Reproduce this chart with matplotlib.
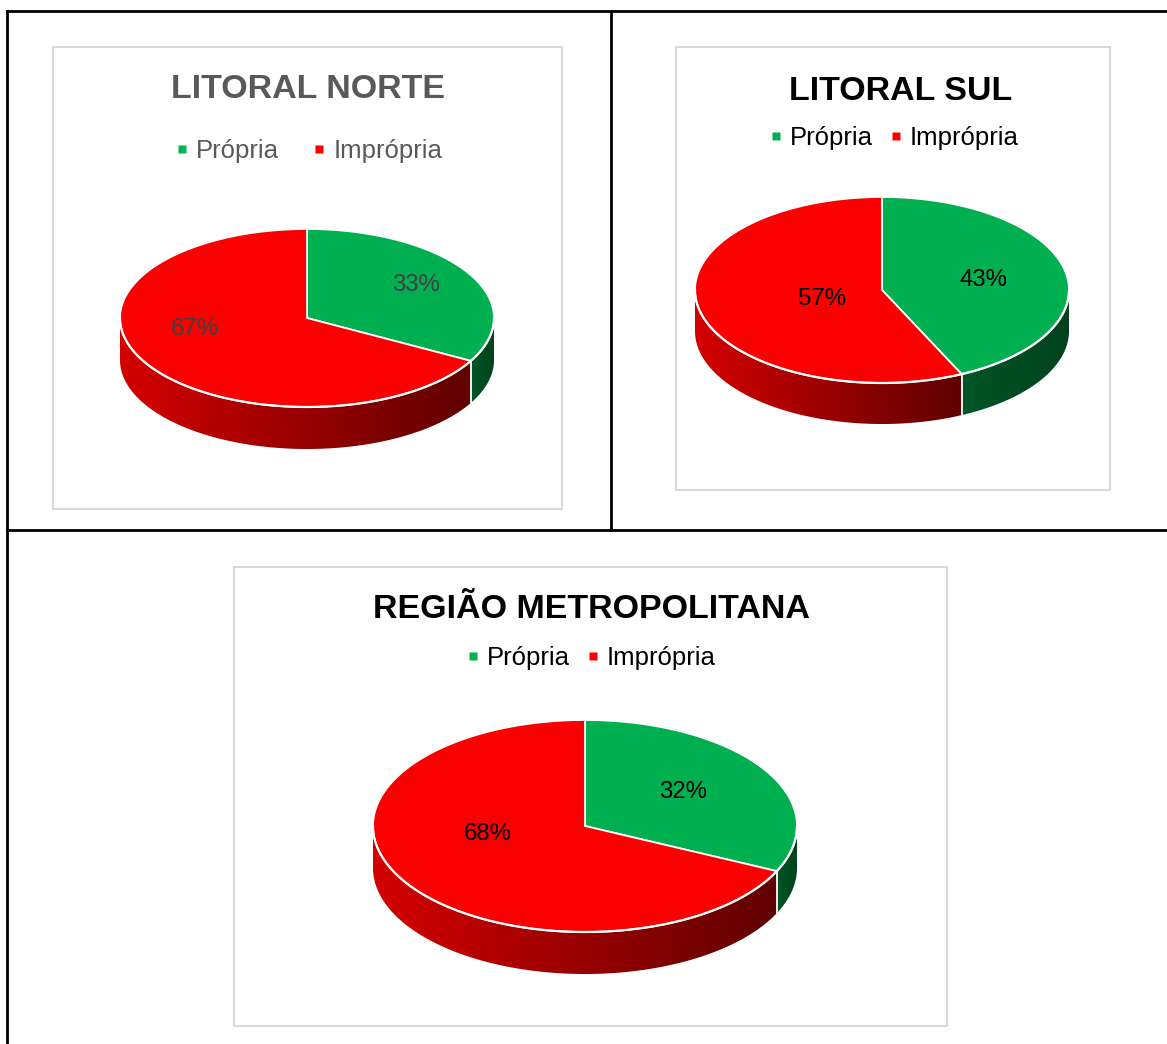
import numpy as np
import matplotlib
matplotlib.use("Agg")
import matplotlib.pyplot as plt
from matplotlib.patches import Polygon, Rectangle
from matplotlib.lines import Line2D
from matplotlib.colors import LinearSegmentedColormap

plt.rcParams['font.family'] = ['Liberation Sans', 'DejaVu Sans']

# Data
regions = ["LITORAL NORTE", "LITORAL SUL", "REGIÃO METROPOLITANA"]
categories = ["Própria", "Imprópria"]
propria = [33, 43, 32]
impropria = [67, 57, 68]

# Layout in pixel units (x to the right, y downwards)
W, H = 1167, 1044
boxes = [(53, 47, 562, 509), (676, 47, 1110, 490), (234, 567, 947, 1026)]
pies = [(307, 318, 187, 89, 42), (882, 290, 187, 93, 41), (585, 826, 212, 106, 42)]
title_xy = [(308, 90), (901, 92), (591, 609)]
legend_xy = [(309, 151), (894, 138), (591, 658)]
label_xy = [[(416, 285), (195, 329)], [(983, 280), (822, 299)], [(683, 792), (488, 834)]]
text_colors = ["#595959", "black", "black"]
label_colors = ["#404040", "black", "black"]
col_spacing = [1.3, 0.65, 0.65]

top_colors = ["#00b050", "#fa0000"]
side_cmaps = [LinearSegmentedColormap.from_list("g", ["#005526", "#00421d"]),
              LinearSegmentedColormap.from_list("r", ["#d40000", "#600000"])]


def ell(cx, cy, rx, ry, t):
    t = np.radians(t)
    return cx + rx * np.cos(t), cy - ry * np.sin(t)


def draw_pie(ax, values, cx, cy, rx, ry, depth):
    total = float(sum(values))
    start = 90.0
    bounds = []
    for i, v in enumerate(values):
        t0, t1 = start, start - 360.0 * v / total
        bounds.append(t1)
        # side face (front half only)
        a, b = max(t1, -180.0), min(t0, 0.0)
        if a < b:
            tt = np.linspace(a, b, 200)
            xs, ys = ell(cx, cy, rx, ry, tt)
            pts = np.vstack([np.column_stack([xs, ys]),
                             np.column_stack([xs[::-1], ys[::-1] + depth])])
            poly = Polygon(pts, closed=True, facecolor="none", edgecolor="none")
            ax.add_patch(poly)
            grad = np.linspace(0, 1, 256).reshape(1, -1)
            im = ax.imshow(grad, cmap=side_cmaps[i], aspect="auto",
                           extent=(xs.min(), xs.max(), ys.max() + depth, ys.min()),
                           zorder=2, interpolation="bilinear")
            im.set_clip_path(poly)
        # top face
        tt = np.linspace(t0, t1, 300)
        xs, ys = ell(cx, cy, rx, ry, tt)
        pts = np.vstack([[cx, cy], np.column_stack([xs, ys])])
        ax.add_patch(Polygon(pts, closed=True, facecolor=top_colors[i],
                             edgecolor="white", linewidth=1.3, zorder=4))
        start = t1
    # white separators on the side
    for t in bounds:
        tn = ((t + 180) % 360) - 180
        if -180 < tn < 0:
            x, y = ell(cx, cy, rx, ry, tn)
            ax.plot([x, x], [y, y + depth], color="white", lw=1.3, zorder=3)
    # rim line
    tt = np.linspace(-180, 0, 300)
    xs, ys = ell(cx, cy, rx, ry, tt)
    ax.plot(xs, ys, color="white", lw=1.6, zorder=5)


fig = plt.figure(figsize=(W / 100, H / 100), dpi=100)
ax = fig.add_axes([0, 0, 1, 1])
ax.set_xlim(0, W)
ax.set_ylim(H, 0)
ax.axis("off")

# Table lines
lk = dict(color="black", lw=2, zorder=1, solid_capstyle="projecting")
ax.plot([7, W], [11, 11], **lk)
ax.plot([7, 7], [11, H], **lk)
ax.plot([611, 611], [11, 530], **lk)
ax.plot([7, W], [530, 530], **lk)

for k in range(3):
    x0, y0, x1, y1 = boxes[k]
    ax.add_patch(Rectangle((x0, y0), x1 - x0, y1 - y0, facecolor="white",
                           edgecolor="#d9d9d9", lw=1.5, zorder=1))
    tx, ty = title_xy[k]
    ax.text(tx, ty, regions[k], ha="center", va="center", fontsize=24.5,
            fontweight="bold", color=text_colors[k], zorder=6)

    values = [propria[k], impropria[k]]
    draw_pie(ax, values, *pies[k])
    for (lx, ly), v in zip(label_xy[k], values):
        ax.text(lx, ly, f"{v}%", ha="center", va="center", fontsize=17.3,
                color=label_colors[k], zorder=6)

    handles = [Line2D([], [], marker="s", linestyle="none", markersize=5.5,
                      markerfacecolor=c, markeredgecolor="none")
               for c in top_colors]
    fig.legend(handles=handles, labels=categories, loc="center",
               bbox_to_anchor=legend_xy[k], bbox_transform=ax.transData,
               ncol=2, frameon=False, fontsize=18.5, handlelength=0.5,
               handletextpad=0.3, columnspacing=col_spacing[k],
               labelcolor=text_colors[k], borderpad=0, borderaxespad=0)

ax.set_xlim(0, W)
ax.set_ylim(H, 0)

fig.savefig("out.png", dpi=100)
